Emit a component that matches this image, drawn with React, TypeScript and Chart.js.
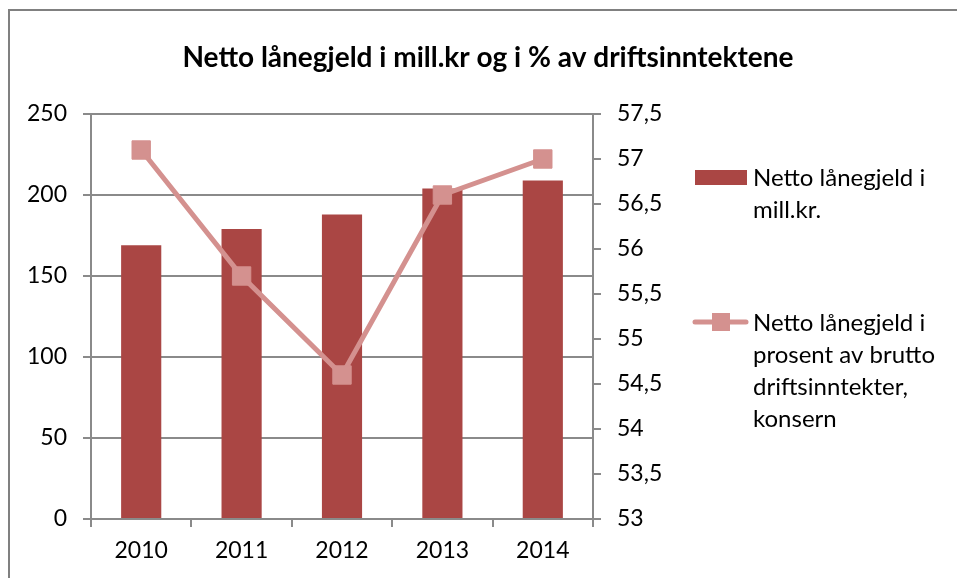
import React, { useEffect, useRef } from "react";
import { Chart, registerables } from "chart.js";

Chart.register(...registerables);

const categories = ["2010", "2011", "2012", "2013", "2014"];
const debtMillions = [169, 179, 188, 204, 209];
const debtPercent = [57.1, 55.7, 54.6, 56.6, 57.0];
const leftAxis = { min: 0, max: 250, step: 50 };
const rightAxis = { min: 53, max: 57.5, step: 0.5 };
const titleText = "Netto lånegjeld i mill.kr og i % av driftsinntektene";
const barLegendLines = ["Netto lånegjeld i", "mill.kr."];
const lineLegendLines = ["Netto lånegjeld i", "prosent av brutto", "driftsinntekter,", "konsern"];

const W = 957;
const H = 578;
const FONT = "Lato";
const BAR_COLOR = "#AA4644";
const LINE_COLOR = "#D4918F";
const GRID_COLOR = "#8a8a8a";

export default function App() {
  const ref = useRef<HTMLCanvasElement | null>(null);

  useEffect(() => {
    document.body.style.margin = "0";
    const canvas = ref.current!;
    const decor = {
      id: "decor",
      afterDraw(chart: any) {
        const ctx = chart.ctx as CanvasRenderingContext2D;
        ctx.save();
        // outer border
        ctx.strokeStyle = "#808080";
        ctx.lineWidth = 2;
        ctx.beginPath();
        ctx.moveTo(9, H + 5);
        ctx.lineTo(9, 10);
        ctx.lineTo(W + 5, 10);
        ctx.stroke();
        // title
        ctx.fillStyle = "#000";
        ctx.font = `bold 28px ${FONT}`;
        ctx.textAlign = "center";
        ctx.textBaseline = "middle";
        ctx.fillText(titleText, 488, 58);
        // legend
        ctx.font = `24px ${FONT}`;
        ctx.textAlign = "left";
        ctx.fillStyle = BAR_COLOR;
        ctx.fillRect(695, 170, 52, 15);
        ctx.fillStyle = "#000";
        barLegendLines.forEach((t, i) => ctx.fillText(t, 753, 178 + i * 32));
        ctx.strokeStyle = LINE_COLOR;
        ctx.lineWidth = 5;
        ctx.lineCap = "round";
        ctx.beginPath();
        ctx.moveTo(695, 322);
        ctx.lineTo(746, 322);
        ctx.stroke();
        ctx.fillStyle = LINE_COLOR;
        ctx.fillRect(712, 313, 18, 18);
        ctx.fillStyle = "#000";
        lineLegendLines.forEach((t, i) => ctx.fillText(t, 753, 323 + i * 32));
        ctx.restore();
      },
    };

    const tickFont = { family: FONT, size: 23 };
    const chart = new Chart(canvas, {
      type: "bar",
      data: {
        labels: categories,
        datasets: [
          {
            type: "line",
            label: lineLegendLines.join(" "),
            data: debtPercent,
            yAxisID: "y1",
            borderColor: LINE_COLOR,
            backgroundColor: LINE_COLOR,
            borderWidth: 5,
            pointStyle: "rect",
            pointRadius: 13,
            pointBackgroundColor: LINE_COLOR,
            pointBorderColor: LINE_COLOR,
            pointBorderWidth: 1,
            tension: 0,
            order: 0,
          } as any,
          {
            type: "bar",
            label: barLegendLines.join(" "),
            data: debtMillions,
            yAxisID: "y",
            backgroundColor: BAR_COLOR,
            borderWidth: 0,
            barPercentage: 0.4,
            categoryPercentage: 1,
            order: 1,
          },
        ],
      },
      options: {
        responsive: false,
        animation: false,
        layout: { padding: { top: 114, left: 0, right: 0, bottom: 0 } },
        plugins: {
          legend: { display: false },
          title: { display: false },
          tooltip: { enabled: false },
        },
        scales: {
          x: {
            type: "category",
            offset: true,
            grid: {
              offset: true,
              drawOnChartArea: false,
              drawTicks: true,
              tickLength: 8,
              color: GRID_COLOR,
              lineWidth: 2,
            },
            border: { display: true, color: GRID_COLOR, width: 2 },
            ticks: { font: tickFont, color: "#000", padding: 10 },
            afterFit: (s: any) => {
              s.height = 59;
            },
          },
          y: {
            position: "left",
            min: leftAxis.min,
            max: leftAxis.max,
            ticks: { stepSize: leftAxis.step, font: tickFont, color: "#000", padding: 16 },
            grid: { color: GRID_COLOR, lineWidth: 2, tickLength: 8 },
            border: { display: true, color: GRID_COLOR, width: 2 },
            afterFit: (s: any) => {
              s.width = 91;
            },
          },
          y1: {
            position: "right",
            min: rightAxis.min,
            max: rightAxis.max,
            ticks: {
              stepSize: rightAxis.step,
              font: tickFont,
              color: "#000",
              padding: 16,
              callback: (v: any) => String(Math.round(Number(v) * 10) / 10).replace(".", ","),
            },
            grid: { drawOnChartArea: false, color: GRID_COLOR, lineWidth: 2, tickLength: 8 },
            border: { display: true, color: GRID_COLOR, width: 2 },
            afterFit: (s: any) => {
              s.width = W - 593;
            },
          },
        },
      },
      plugins: [decor],
    });
    return () => chart.destroy();
  }, []);

  return (
    <div style={{ width: W, height: H, overflow: "hidden" }}>
      <canvas ref={ref} width={W} height={H} style={{ display: "block" }} />
    </div>
  );
}
